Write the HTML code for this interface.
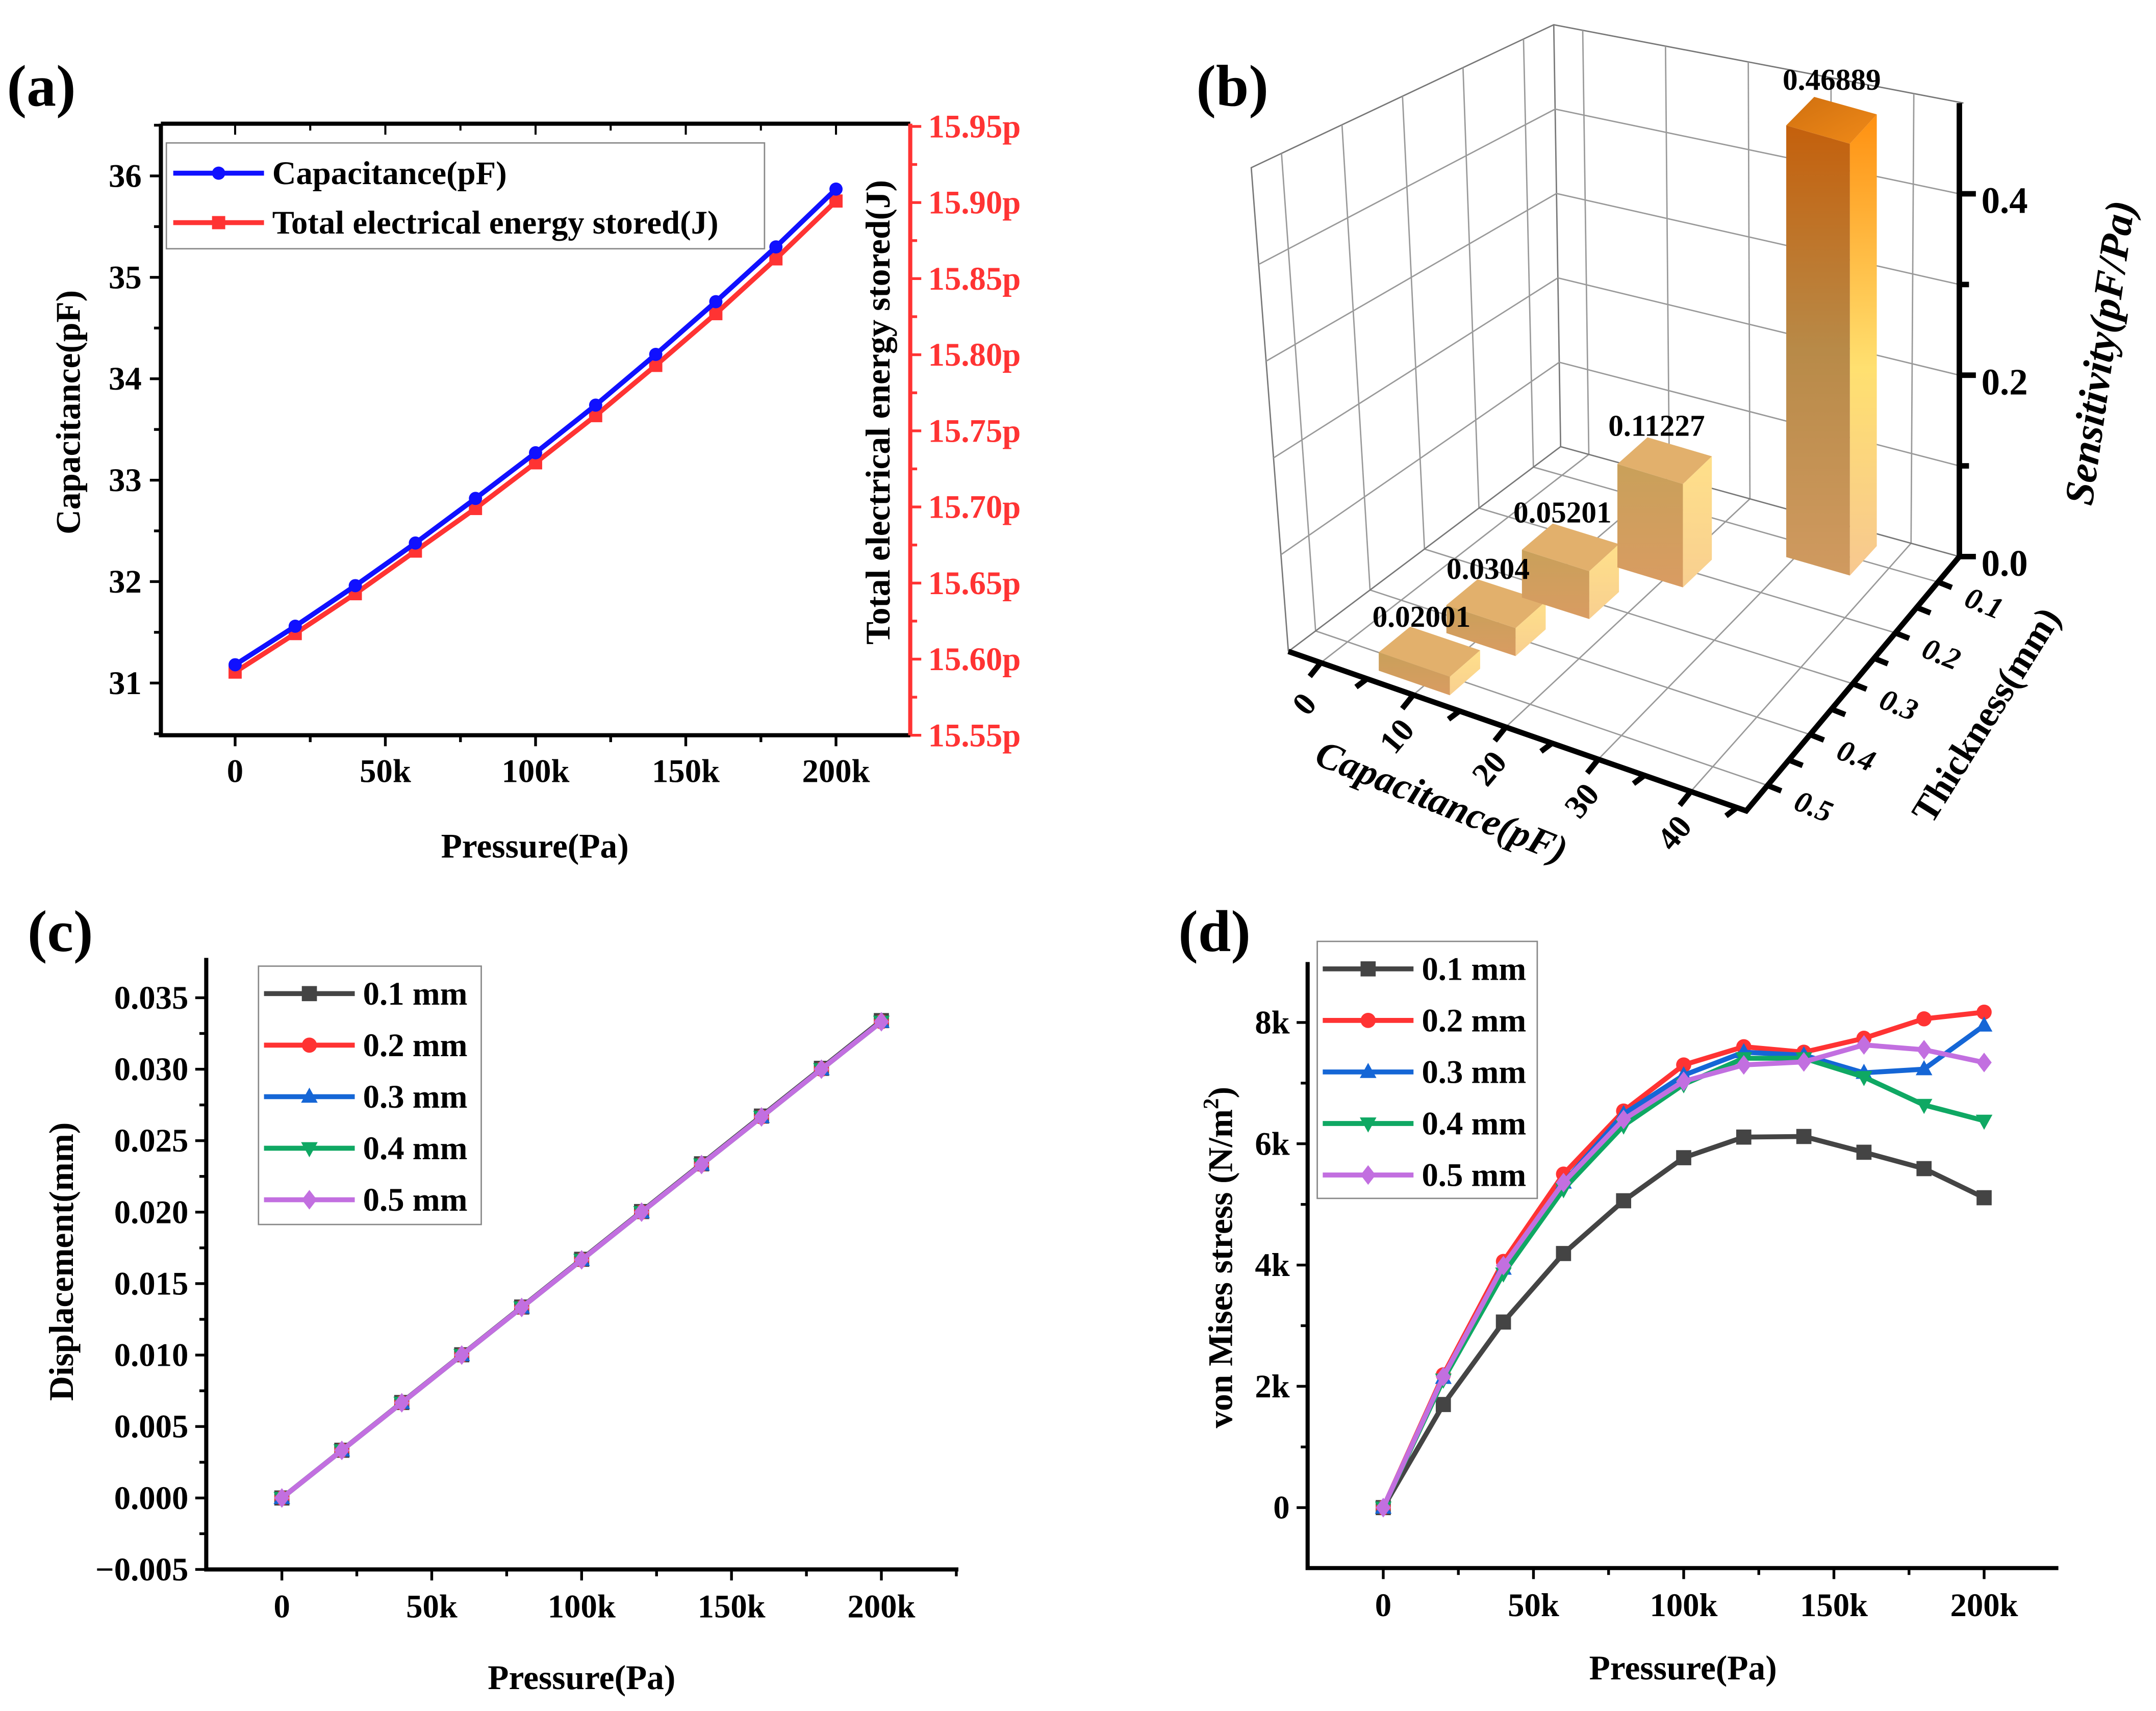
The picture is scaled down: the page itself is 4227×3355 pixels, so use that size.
<!DOCTYPE html>
<html><head><meta charset="utf-8"><style>
html,body{margin:0;padding:0;background:#fff;}
svg{display:block;font-family:"Liberation Serif",serif;font-weight:bold;}
</style></head><body>
<svg id="fig" xmlns="http://www.w3.org/2000/svg" width="4227" height="3355" viewBox="0 0 1568 1245" preserveAspectRatio="none">
<defs>
<linearGradient id="gFront" x1="0" y1="0" x2="0" y2="1"><stop offset="0" stop-color="#c4600c"/><stop offset="0.5" stop-color="#b88a48"/><stop offset="1" stop-color="#d09a60"/></linearGradient>
<linearGradient id="gSide" x1="0" y1="0" x2="0" y2="1"><stop offset="0" stop-color="#ff9010"/><stop offset="0.55" stop-color="#ffe070"/><stop offset="1" stop-color="#f7c890"/></linearGradient>
<linearGradient id="gTop" x1="0" y1="0" x2="1" y2="1"><stop offset="0" stop-color="#d07010"/><stop offset="1" stop-color="#f08a18"/></linearGradient>
<linearGradient id="gFrontS" x1="0" y1="0" x2="0" y2="1"><stop offset="0" stop-color="#c9a05a"/><stop offset="1" stop-color="#d99c62"/></linearGradient>
<linearGradient id="gSideS" x1="0" y1="0" x2="0" y2="1"><stop offset="0" stop-color="#ffe08a"/><stop offset="1" stop-color="#f8cf90"/></linearGradient>
</defs>
</svg>
<script>
// ---------- data ----------
const pressureK = [0,20,40,60,80,100,120,140,160,180,200];
const capA = [31.18,31.56,31.96,32.38,32.82,33.27,33.74,34.24,34.76,35.30,35.87];
const energyA = [15.5915,15.6168,15.643,15.671,15.699,15.729,15.760,15.793,15.827,15.863,15.901];
const xTicksK = [0,50,100,150,200];
const xTickLabels = ['0','50k','100k','150k','200k'];
const capTicks = [31,32,33,34,35,36];
const energyTicks = [15.55,15.60,15.65,15.70,15.75,15.80,15.85,15.90,15.95];

const barThickness = [0.5,0.4,0.3,0.2,0.1];
const barCap = [9.0,10.7,13.4,18.6,33.0];
const barSens = [0.02001,0.0304,0.05201,0.11227,0.46889];
const barLabels = ['0.02001','0.0304','0.05201','0.11227','0.46889'];
const capAxisTicks = [0,10,20,30,40];
const thickAxisTicks = [0.1,0.2,0.3,0.4,0.5];
const sensTicks = [0.0,0.2,0.4];

const dispNames = ['0.1 mm','0.2 mm','0.3 mm','0.4 mm','0.5 mm'];
const disp01 = [0,0.00334,0.00668,0.01002,0.01336,0.0167,0.02004,0.02338,0.02672,0.03006,0.0334];
const disp02 = [0,0.00333,0.00666,0.01,0.01333,0.01666,0.02,0.02333,0.02666,0.03,0.03332];
const disp03 = [0,0.00333,0.00666,0.01,0.01333,0.01666,0.02,0.02333,0.02666,0.03,0.03332];
const disp04 = [0,0.00333,0.00666,0.01,0.01333,0.01666,0.02,0.02333,0.02666,0.03,0.03332];
const disp05 = [0,0.00333,0.00666,0.01,0.01333,0.01666,0.02,0.02333,0.02666,0.03,0.03332];
const dispTicks = [-0.005,0,0.005,0.01,0.015,0.02,0.025,0.03,0.035];
const dispTickLabels = ['\u22120.005','0.000','0.005','0.010','0.015','0.020','0.025','0.030','0.035'];

const stress01 = [0,1.70,3.06,4.19,5.06,5.77,6.11,6.12,5.86,5.59,5.11];
const stress02 = [0,2.19,4.06,5.50,6.54,7.30,7.60,7.51,7.74,8.06,8.17];
const stress03 = [0,2.14,3.94,5.36,6.49,7.13,7.51,7.46,7.17,7.23,7.95];
const stress04 = [0,2.11,3.86,5.25,6.30,6.98,7.41,7.41,7.10,6.64,6.38];
const stress05 = [0,2.16,3.99,5.36,6.40,7.03,7.30,7.35,7.63,7.55,7.34];
const stressTicks = [0,2,4,6,8];
const stressTickLabels = ['0','2k','4k','6k','8k'];

const seriesColors = ['#444444','#ff3333','#1566d6','#0fa863','#c26fe0'];
const seriesMarkers = ['square','circle','triangle','tridown','diamond'];

// ---------- helpers ----------
const NS='http://www.w3.org/2000/svg';
const svg=document.getElementById('fig');
function el(tag,attrs,parent){const e=document.createElementNS(NS,tag);for(const k in attrs)e.setAttribute(k,attrs[k]);(parent||svg).appendChild(e);return e;}
function txt(s,attrs,parent){const e=el('text',attrs,parent);e.textContent=s;return e;}
function lin(a0,a1,p0,p1){return v=>p0+(v-a0)/(a1-a0)*(p1-p0);}
function marker(type,x,y,r,color,parent){
  let e;
  if(type==='circle') e=el('circle',{cx:x,cy:y,r:r,fill:color},parent);
  else if(type==='square') e=el('rect',{x:x-r,y:y-r,width:2*r,height:2*r,fill:color},parent);
  else if(type==='triangle') e=el('polygon',{points:`${x},${y-r*1.2} ${x-r*1.1},${y+r*0.8} ${x+r*1.1},${y+r*0.8}`,fill:color},parent);
  else if(type==='tridown') e=el('polygon',{points:`${x},${y+r*1.2} ${x-r*1.1},${y-r*0.8} ${x+r*1.1},${y-r*0.8}`,fill:color},parent);
  else e=el('polygon',{points:`${x},${y-r*1.3} ${x+r},${y} ${x},${y+r*1.3} ${x-r},${y}`,fill:color},parent);
  return e;
}
const TF=24, TT=25, LF=24, MR=5.5, LW=3.6;

// ---------- panel labels ----------
const pl=[['(a)',5,77],['(b)',870,77],['(c)',20,692],['(d)',857,692]];
for(const [s,x,y] of pl){
  const t=txt(s,{x:x,y:y,'font-size':43});
  
  
}

// ---------- panel (a) ----------
(function(){
  const g=el('g',{});
  
  
  const L=117,R=662,T=90,B=535;
  const X=lin(0,200,171,608), Y=lin(31,36,497,128), Y2=lin(15.55,15.95,535,92);
  const ax=el('path',{d:`M${L},${T}V${B}H${R}M${L},${T}H${R}`,stroke:'#000','stroke-width':3,fill:'none'},g);
  
  
  const ra=el('line',{x1:R,y1:T,x2:R,y2:B,stroke:'#ff3333','stroke-width':3},g);
  
  
  for(let k=-25;k<=225;k+=25){const x=X(k);if(x<L||x>R)continue;const big=k%50===0;
    el('line',{x1:x,y1:B,x2:x,y2:B+(big?8:5),stroke:'#000','stroke-width':2},g);
    el('line',{x1:x,y1:T,x2:x,y2:T+(big?8:5),stroke:'#000','stroke-width':1.5},g);}
  xTicksK.forEach((k,i)=>{const t=txt(xTickLabels[i],{x:X(k),y:569,'font-size':TF,'text-anchor':'middle'},g);
    
    });
  for(let v=30.5;v<=36.5;v+=0.5){const y=Y(v);if(y<T||y>B)continue;el('line',{x1:L,y1:y,x2:L-(v%1===0?8:5),y2:y,stroke:'#000','stroke-width':2},g);}
  capTicks.forEach(v=>{const t=txt(String(v),{x:L-14,y:Y(v)+8,'font-size':TF,'text-anchor':'end'},g);
    
    });
  energyTicks.forEach((v,i)=>{const y=Y2(v);el('line',{x1:R,y1:y,x2:R+8,y2:y,stroke:'#ff3333','stroke-width':2},g);
    if(i<energyTicks.length-1){const m=Y2(v+0.025);el('line',{x1:R,y1:m,x2:R+5,y2:m,stroke:'#ff3333','stroke-width':2},g);}
    const t=txt(v.toFixed(2)+'p',{x:R+13,y:y+8,'font-size':TF,fill:'#ff3333'},g);
    
    });
  let t=txt('Pressure(Pa)',{x:389,y:624,'font-size':TT,'text-anchor':'middle'},g);
  
  
  t=txt('Capacitance(pF)',{x:58,y:300,'font-size':TT,'text-anchor':'middle',transform:'rotate(-90 58 300)'},g);
  
  
  t=txt('Total electrical energy stored(J)',{x:647,y:300,'font-size':TT,'text-anchor':'middle',transform:'rotate(-90 647 300)'},g);
  
  
  const series=[[capA,Y,'#1010ff','circle','capacitance-line'],[energyA,Y2,'#ff3333','square','energy-line']];
  for(const [d,yf,c,m,nm] of [series[1],series[0]]){
    const pts=pressureK.map((p,i)=>X(p)+','+yf(d[i])).join(' ');
    const pl=el('polyline',{points:pts,fill:'none',stroke:c,'stroke-width':LW},g);
    
    
    pressureK.forEach((p,i)=>{const mk=marker(m,X(p),yf(d[i]),4.8,c,g);
      
      });
  }
  const lg=el('g',{},g);
  
  
  el('rect',{x:121,y:104,width:435,height:77,fill:'#fff',stroke:'#888','stroke-width':1},lg);
  [['Capacitance(pF)','#1010ff','circle',126],['Total electrical energy stored(J)','#ff3333','square',162]].forEach(([s,c,m,y])=>{
    el('line',{x1:126,y1:y,x2:192,y2:y,stroke:c,'stroke-width':LW},lg);marker(m,159,y,4.8,c,lg);
    const e=txt(s,{x:198,y:y+8,'font-size':LF},lg);
    
    });
})();

// ---------- panel (b) 3D bars ----------
(function(){
  const g=el('g',{});
  
  
  const A=[937,474],B=[1270,590],C=[1425,405],D=[1135,325];
  const At=[910,122],Dt=[1130,18],Ct=[1428,75];
  const capMin=-3.5,capMax=46,tMax=0.55,tMin=0.05,K=670;
  function fl(u,v){return [(1-u)*(1-v)*A[0]+u*(1-v)*B[0]+u*v*C[0]+(1-u)*v*D[0],(1-u)*(1-v)*A[1]+u*(1-v)*B[1]+u*v*C[1]+(1-u)*v*D[1]];}
  const U=c=>(c-capMin)/(capMax-capMin), V=t=>(tMax-t)/(tMax-tMin);
  const gs={stroke:'#999','stroke-width':1,fill:'none'};
  const grid=el('g',{},g);
  
  
  el('path',Object.assign({d:`M${A}L${At}L${Dt}L${Ct}M${Dt}L${D}`},gs,{stroke:'#777'}),grid);
  for(let h=0.1;h<=0.41;h+=0.1){const f=h/0.5;
    const a=[A[0]+(At[0]-A[0])*f,A[1]+(At[1]-A[1])*f],d=[D[0]+(Dt[0]-D[0])*f,D[1]+(Dt[1]-D[1])*f],c=[C[0],C[1]-h*K*0.985];
    el('path',Object.assign({d:`M${a}L${d}L${c}`},gs),grid);}
  capAxisTicks.forEach(c=>{const u=U(c);const b=[D[0]+(C[0]-D[0])*u,D[1]+(C[1]-D[1])*u],t=[Dt[0]+(Ct[0]-Dt[0])*u,Dt[1]+(Ct[1]-Dt[1])*u];
    el('line',Object.assign({x1:b[0],y1:b[1],x2:t[0],y2:t[1]},gs),grid);
    const f0=fl(u,0),f1=fl(u,1);el('line',Object.assign({x1:f0[0],y1:f0[1],x2:f1[0],y2:f1[1]},gs),grid);});
  thickAxisTicks.forEach(th=>{const v=V(th);const b=[A[0]+(D[0]-A[0])*v,A[1]+(D[1]-A[1])*v],t=[At[0]+(Dt[0]-At[0])*v,At[1]+(Dt[1]-At[1])*v];
    el('line',Object.assign({x1:b[0],y1:b[1],x2:t[0],y2:t[1]},gs),grid);
    const f0=fl(0,v),f1=fl(1,v);el('line',Object.assign({x1:f0[0],y1:f0[1],x2:f1[0],y2:f1[1]},gs),grid);});
  el('path',Object.assign({d:`M${A}L${D}L${C}`},gs,{stroke:'#777'}),grid);
  const du=0.078,dv=0.06;
  barCap.forEach((c,i)=>{
    const u=U(c),v=V(barThickness[i]),h=barSens[i]*K;
    const p1=fl(u-du,v-dv),p2=fl(u+du,v-dv),p3=fl(u+du,v+dv),p4=fl(u-du,v+dv);
    const up=p=>[p[0],p[1]-h];
    const bg=el('g',{},g);
    
    
    const big=barSens[i]>0.3;
    el('polygon',{points:[p1,p2,up(p2),up(p1)].join(' '),fill:big?'url(#gFront)':'url(#gFrontS)'},bg);
    el('polygon',{points:[p2,p3,up(p3),up(p2)].join(' '),fill:big?'url(#gSide)':'url(#gSideS)'},bg);
    el('polygon',{points:[up(p1),up(p2),up(p3),up(p4)].join(' '),fill:big?'url(#gTop)':'#e2b06c'},bg);
  });
  barCap.forEach((c,i)=>{
    const u=U(c),v=V(barThickness[i]),h=barSens[i]*K,big=barSens[i]>0.3;
    const tp=fl(u,v);
    const t=txt(barLabels[i],{x:tp[0]-(big?0:6),y:tp[1]-h-(big?22:18),'font-size':22,'text-anchor':'middle'},g);
    
    
  });
  const ax=el('path',{d:`M${A}L${B}L${C}M${C[0]},${C[1]}V${Ct[1]}`,stroke:'#000','stroke-width':4,fill:'none'},g);
  
  
  for(let c=0;c<=45;c+=5){const u=U(c),p=[A[0]+(B[0]-A[0])*u,A[1]+(B[1]-A[1])*u];
    el('line',{x1:p[0],y1:p[1],x2:p[0]-8,y2:p[1]+(c%10===0?10:6),stroke:'#000','stroke-width':4},g);}
  capAxisTicks.forEach(c=>{const u=U(c),p=[A[0]+(B[0]-A[0])*u,A[1]+(B[1]-A[1])*u];
    const t=txt(String(c),{x:p[0]-12,y:p[1]+38,'font-size':24,'text-anchor':'middle',transform:`rotate(-50 ${p[0]-12} ${p[1]+30})`},g);
    
    });
  for(let th=0.1;th<=0.51;th+=0.05){const v=V(th),p=[B[0]+(C[0]-B[0])*v,B[1]+(C[1]-B[1])*v];
    el('line',{x1:p[0],y1:p[1],x2:p[0]+10,y2:p[1]+4,stroke:'#000','stroke-width':4},g);}
  thickAxisTicks.forEach(th=>{const v=V(th),p=[B[0]+(C[0]-B[0])*v,B[1]+(C[1]-B[1])*v];
    const t=txt(th.toFixed(1),{x:p[0]+18,y:p[1]+17,'font-size':22,'font-style':'italic',transform:`rotate(22 ${p[0]+18} ${p[1]+17})`},g);
    
    });
  for(let s=0;s<=0.45;s+=0.1){const y=C[1]-s*K*0.985;el('line',{x1:C[0],y1:y,x2:C[0]+(Math.abs(s*10%2)<0.01?12:7),y2:y,stroke:'#000','stroke-width':4},g);}
  sensTicks.forEach(s=>{const y=C[1]-s*K*0.985;const t=txt(s.toFixed(1),{x:C[0]+16,y:y+14,'font-size':27},g);
    
    });
  let t=txt('Capacitance(pF)',{x:1045,y:592,'font-size':28,'font-style':'italic','text-anchor':'middle',transform:'rotate(22 1045 592)'},g);
  
  
  t=txt('Thickness(mm)',{x:1452,y:525,'font-size':27,'text-anchor':'middle',transform:'rotate(-58 1452 525)'},g);
  
  
  t=txt('Sensitivity(pF/Pa)',{x:1537,y:258,'font-size':30,'font-style':'italic','text-anchor':'middle',transform:'rotate(-82 1537 258)'},g);
  
  
})();

// ---------- generic multi-line chart ----------
function multiChart(o){
  const g=el('g',{});
  
  
  const X=lin(0,200,o.x0,o.x200), Y=lin(o.yv0,o.yv1,o.py0,o.py1);
  const ax=el('path',{d:`M${o.L},${o.T}V${o.B}H${o.R}`,stroke:'#000','stroke-width':3,fill:'none'},g);
  
  
  for(let k=-50;k<=225;k+=25){const x=X(k);if(x<o.L+2||x>o.R)continue;el('line',{x1:x,y1:o.B,x2:x,y2:o.B+(k%50===0?8:5),stroke:'#000','stroke-width':2},g);}
  xTicksK.forEach((k,i)=>{const t=txt(xTickLabels[i],{x:X(k),y:o.B+35,'font-size':TF,'text-anchor':'middle'},g);
    
    });
  o.yt.forEach((v,i)=>{const y=Y(v);el('line',{x1:o.L,y1:y,x2:o.L-8,y2:y,stroke:'#000','stroke-width':2},g);
    if(i<o.yt.length-1){const m=Y(v+o.ystep/2);el('line',{x1:o.L,y1:m,x2:o.L-5,y2:m,stroke:'#000','stroke-width':2},g);}
    const t=txt(o.ytl[i],{x:o.L-13,y:y+8,'font-size':TF,'text-anchor':'end'},g);
    
    });
  let t=txt('Pressure(Pa)',{x:o.xtx,y:o.xty,'font-size':TT,'text-anchor':'middle'},g);
  
  
  t=txt('',{x:o.ytx,y:o.yty,'font-size':TT,'text-anchor':'middle',transform:`rotate(-90 ${o.ytx} ${o.yty})`},g);
  t.innerHTML=o.ytitle;
  
  
  o.series.forEach((d,si)=>{
    const c=seriesColors[si];
    const pl=el('polyline',{points:pressureK.map((p,i)=>X(p)+','+Y(d[i])).join(' '),fill:'none',stroke:c,'stroke-width':LW},g);
    
    
    pressureK.forEach((p,i)=>{const m=marker(seriesMarkers[si],X(p),Y(d[i]),MR,c,g);
      
      });
  });
  const lg=el('g',{},g);
  
  
  el('rect',{x:o.lx,y:o.ly,width:o.lw,height:o.lh,fill:'#fff',stroke:'#888','stroke-width':1},lg);
  dispNames.forEach((s,i)=>{const y=o.ly+20+i*o.lstep,c=seriesColors[i];
    el('line',{x1:o.lx+4,y1:y,x2:o.lx+70,y2:y,stroke:c,'stroke-width':LW},lg);marker(seriesMarkers[i],o.lx+37,y,MR,c,lg);
    const e=txt(s,{x:o.lx+76,y:y+8,'font-size':LF},lg);
    
    });
}
multiChart({name:'panel-c-chart',id:'c',L:150,R:697,T:697,B:1142,x0:205,x200:641,yv0:0,yv1:0.035,py0:1090,py1:726,
  yt:dispTicks,ytl:dispTickLabels,ystep:0.005,xtx:423,xty:1229,ytx:53,yty:918,ytitle:'Displacement(mm)',
  series:[disp01,disp02,disp03,disp04,disp05],lx:188,ly:703,lw:162,lh:188,lstep:37.5});
multiChart({name:'panel-d-chart',id:'d',L:951,R:1497,T:700,B:1141,x0:1006,x200:1443,yv0:0,yv1:8,py0:1097,py1:744,
  yt:stressTicks,ytl:stressTickLabels,ystep:2,xtx:1224,xty:1222,ytx:896,yty:915,ytitle:'von Mises stress (N/m<tspan font-size="16" dy="-10">2</tspan><tspan dy="10">)</tspan>',
  series:[stress01,stress02,stress03,stress04,stress05],lx:958,ly:685,lw:160,lh:187,lstep:37.5});
</script>
</body></html>
